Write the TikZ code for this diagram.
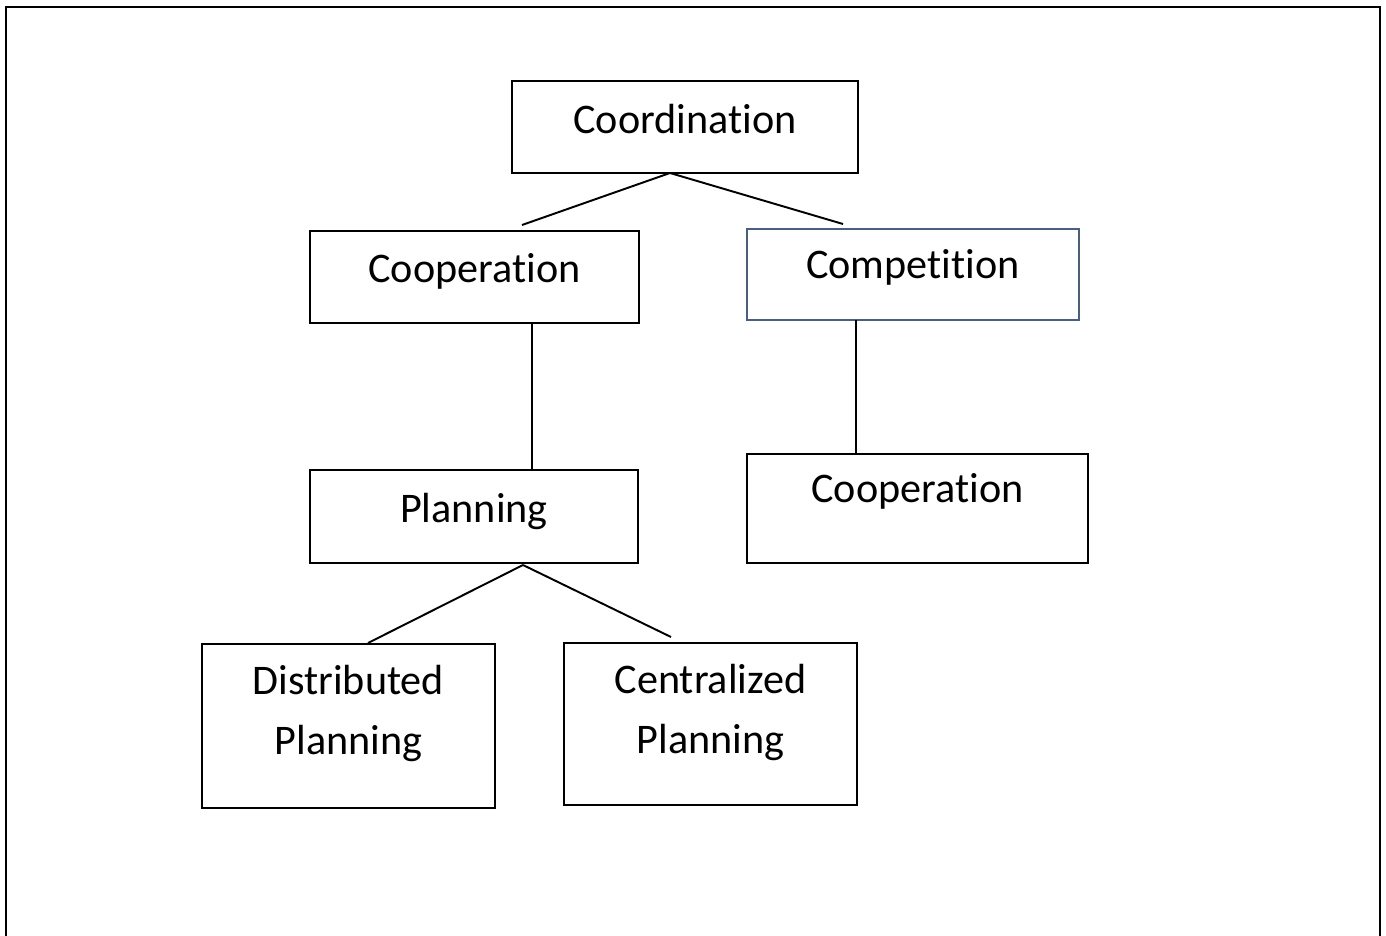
\documentclass[tikz,border=0pt]{standalone}
\usepackage{fontspec}
\setmainfont[Ligatures={NoCommon,NoRare}]{Carlito}
\usetikzlibrary{positioning}
\definecolor{compborder}{RGB}{74,94,128}

\begin{document}
\begin{tikzpicture}[
	x=0.02cm, y=-0.02cm,
	every node/.style={font=\fontsize{24}{34}\selectfont},
	concept/.style={rectangle, draw, line width=1.1pt, inner sep=0, anchor=north west, align=center},
	link/.style={line width=1.1pt}
	]

\useasboundingbox (0,0) rectangle (1386,936);
\draw [line width=1.1pt] (6,7) rectangle (1380,960);

% Top level
\node [concept, text width=6.92cm, text height=1.06cm, text depth=0.78cm] (coordination) at (511,80) {Coordination};

% Second level
\node [concept, text width=6.58cm, text height=1.04cm, text depth=0.80cm] (cooperation) at (309,230) {Cooperation};
\node [concept, draw=compborder, text width=6.64cm, text height=1.00cm, text depth=0.82cm] (competition) at (746,228) {Competition};

% Third level
\node [concept, text width=6.56cm, text height=1.06cm, text depth=0.80cm] (planning) at (309,469) {Planning};
\node [concept, text width=6.82cm, text height=0.98cm, text depth=1.20cm] (cooperation2) at (746,453) {Cooperation};

% Planning kinds
\node [concept, text width=5.86cm, text height=1.02cm, text depth=2.26cm] (distributed) at (201,643) {Distributed\\Planning};
\node [concept, text width=5.86cm, text height=1.02cm, text depth=2.22cm] (centralized) at (563,642) {Centralized\\Planning};

% Connectors
\coordinate (coordination fork) at (670,173);
\coordinate (cooperation end) at (522,225);
\coordinate (competition end) at (843,224);
\coordinate (cooperation stem) at (532,322);
\coordinate (competition stem) at (856,320);
\coordinate (planning fork) at (523,565);
\coordinate (distributed end) at (368,643);
\coordinate (centralized end) at (671,637);

\draw [link] (coordination fork) -- (cooperation end);
\draw [link] (coordination fork) -- (competition end);
\draw [link] (cooperation stem) -- (cooperation stem |- planning.north);
\draw [link] (competition stem) -- (competition stem |- cooperation2.north);
\draw [link] (planning fork) -- (distributed end);
\draw [link] (planning fork) -- (centralized end);

\end{tikzpicture}
\end{document}
